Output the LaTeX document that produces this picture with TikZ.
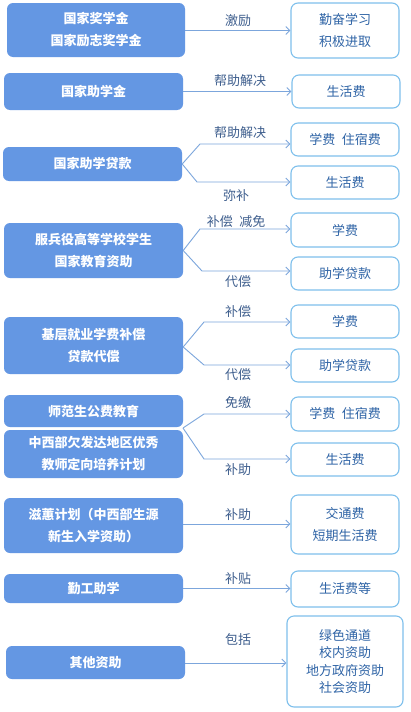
\documentclass[tikz,border=0pt]{standalone}
\usepackage{fontspec}
\setmainfont{Noto Sans CJK SC}
\usetikzlibrary{arrows.meta}
\definecolor{leftblue}{HTML}{6497E3}
\definecolor{edgeblue}{HTML}{7EC0EC}
\definecolor{textblue}{HTML}{2F64A6}
\definecolor{arrowblue}{HTML}{7CA6DC}
\definecolor{labelblue}{HTML}{3F5F8E}
\tikzset{
  lbox/.style={rectangle, rounded corners=6pt, fill=leftblue, text=white, font=\fontsize{13}{22}\selectfont\bfseries, align=center, minimum width=179pt, inner sep=0pt},
  rbox/.style={rectangle, rounded corners=7pt, draw=edgeblue, line width=1.1pt, fill=white, text=textblue, font=\fontsize{13}{22}\selectfont, align=center, minimum width=108pt, inner sep=0pt},
  arr/.style={draw=arrowblue, line width=0.9pt, -{Straight Barb[length=4pt,width=8pt]}},
  lbl/.style={text=labelblue, font=\fontsize{13}{16}\selectfont, inner sep=0pt}
}
\begin{document}
\begin{tikzpicture}[x=1pt, y=-1pt]
\useasboundingbox[fill=white] (0,0) rectangle (410,712);
\node[lbox, minimum width=178pt, minimum height=54pt] (l1) at (96,30) {国家奖学金\\国家励志奖学金};
\node[lbox, minimum height=37pt] (l2) at (93.5,91.5) {国家助学金};
\node[lbox, minimum height=34pt] (l3) at (92.5,164) {国家助学贷款};
\node[lbox, minimum height=55pt] (l4) at (93.5,250.5) {服兵役高等学校学生\\国家教育资助};
\node[lbox, minimum height=57pt] (l5) at (93.5,345.5) {基层就业学费补偿\\贷款代偿};
\node[lbox, minimum height=32pt] (l6) at (93.5,411) {师范生公费教育};
\node[lbox, minimum height=48pt] (l7) at (93.5,454) {中西部欠发达地区优秀\\教师定向培养计划};
\node[lbox, minimum height=55pt] (l8) at (93.5,525.5) {滋蕙计划（中西部生源\\新生入学资助）};
\node[lbox, minimum height=29pt] (l9) at (93.5,588.5) {勤工助学};
\node[lbox, minimum height=33pt] (l10) at (95.5,662.5) {其他资助};

\node[rbox, minimum height=55pt] (r1) at (345,30.5) {勤奋学习\\积极进取};
\node[rbox, minimum height=33pt] (r2) at (346,91.5) {生活费};
\node[rbox, minimum height=33pt] (r3) at (345,139.5) {学费\enspace 住宿费};
\node[rbox, minimum height=33pt] (r4) at (345,182.5) {生活费};
\node[rbox, minimum height=34pt] (r5) at (345,230) {学费};
\node[rbox, minimum height=33pt] (r6) at (345,273.5) {助学贷款};
\node[rbox, minimum height=33pt] (r7) at (345,321.5) {学费};
\node[rbox, minimum height=33pt] (r8) at (345,365.5) {助学贷款};
\node[rbox, minimum height=34pt] (r9) at (345,414) {学费\enspace 住宿费};
\node[rbox, minimum height=33pt] (r10) at (345,459.5) {生活费};
\node[rbox, minimum height=59pt] (r11) at (345,524.5) {交通费\\短期生活费};
\node[rbox, minimum height=36pt] (r12) at (345,589) {生活费等};
\node[rbox, minimum width=116pt, minimum height=91pt, font=\fontsize{13}{17.5}\selectfont] (r13) at (345,661.5) {绿色通道\\校内资助\\地方政府资助\\社会资助};

\coordinate (b3a) at (200,144);
\coordinate (b3b) at (197,182);
\coordinate (b4a) at (200,229);
\coordinate (b4b) at (202,271);
\coordinate (b5a) at (204,322);
\coordinate (b5b) at (204,365);
\coordinate (b6a) at (204,414);
\coordinate (b6b) at (204,459);
\coordinate (s67) at (183,428);

\draw[arr] (l1.east |- 0,30.5) -- (r1.west);
\draw[arr] (l2.east) -- (r2.west |- l2.east);
\draw[arr] (l3.east) -- (b3a) -- (b3a -| r3.west);
\draw[arr] (l3.east) -- (b3b) -- (b3b -| r4.west);
\draw[arr] (l4.east) -- (b4a) -- (b4a -| r5.west);
\draw[arr] (l4.east) -- (b4b) -- (b4b -| r6.west);
\draw[arr] (l5.east |- 0,347) -- (b5a) -- (b5a -| r7.west);
\draw[arr] (l5.east |- 0,347) -- (b5b) -- (b5b -| r8.west);
\draw[arr] (s67) -- (b6a) -- (b6a -| r9.west);
\draw[arr] (s67) -- (b6b) -- (b6b -| r10.west);
\draw[arr] (l8.east |- 0,524) -- (r11.west |- 0,524);
\draw[arr] (l9.east) -- (r12.west |- l9.east);
\draw[arr] (l10.east |- 0,663) -- (r13.west |- 0,663);

\node[lbl] (t1) at (238,21) {激励};
\node[lbl] (t2) at (240,81) {帮助解决};
\node[lbl] (t3a) at (240,133) {帮助解决};
\node[lbl] (t3b) at (236,196) {弥补};
\node[lbl] (t4a) at (236,222) {补偿\enspace 减免};
\node[lbl] (t4b) at (238,282) {代偿};
\node[lbl] (t5a) at (238,312) {补偿};
\node[lbl] (t5b) at (238,375) {代偿};
\node[lbl] (t6a) at (238,403) {免缴};
\node[lbl] (t6b) at (238,470) {补助};
\node[lbl] (t8) at (238,515) {补助};
\node[lbl] (t9) at (238,579) {补贴};
\node[lbl] (t10) at (238,640) {包括};
\end{tikzpicture}
\end{document}
